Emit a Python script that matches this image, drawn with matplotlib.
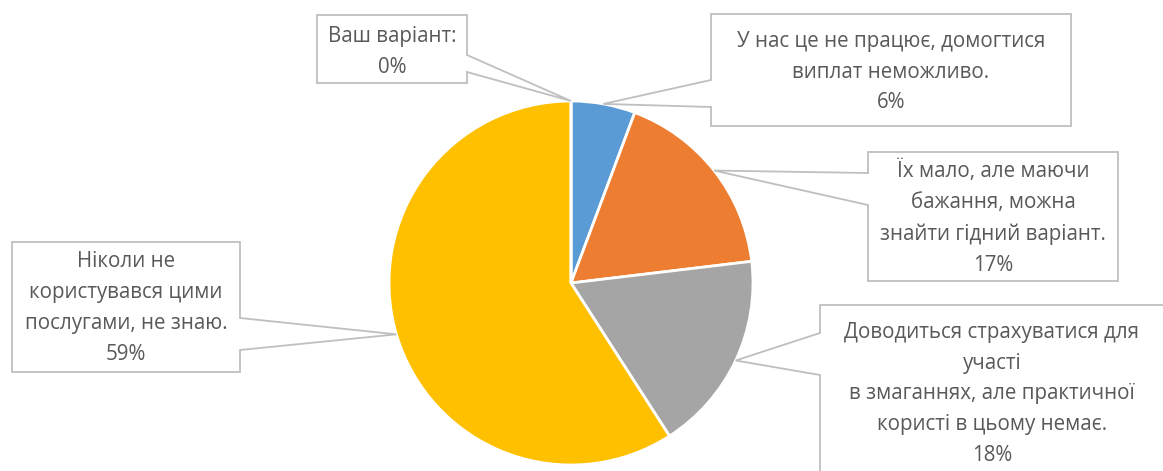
import matplotlib.pyplot as plt
import numpy as np
from matplotlib.patches import Polygon

# data
labels = ["У нас це не працює, домогтися\nвиплат неможливо.",
          "Їх мало, але маючи\nбажання, можна\nзнайти гідний варіант.",
          "Доводиться страхуватися для\nучасті\nв змаганнях, але практичної\nкористі в цьому немає.",
          "Ніколи не\nкористувався цими\nпослугами, не знаю.",
          "Ваш варіант:"]
values = [5.7, 17.4, 17.8, 59.1, 0.0]
colors = ["#5B9BD5", "#ED7D31", "#A5A5A5", "#FFC000", "#4472C4"]

W, H = 1163, 471
cx, cy, R = 571, 283, 182

# callout boxes: x0, y0, x1, y1, side of pointer, pointer base (top, bottom), text centre
boxes = [
    (711, 14, 1071, 126, "left", 80, 107, 891, 72),
    (868, 152, 1118, 281, "left", 173, 205, 993, 218),
    (820, 305, 1175, 490, "left", 333, 375, 992, 394),
    (12, 242, 240, 372, "right", 318, 350, 126, 308),
    (317, 15, 467, 83, "right", 55, 72, 392, 52),
]

fig = plt.figure(figsize=(W / 100, H / 100), dpi=100)
ax = fig.add_axes([0, 0, 1, 1])

wedges, _ = ax.pie(values, colors=colors, startangle=-90, counterclock=True,
                   center=(cx, cy), radius=R, frame=True,
                   wedgeprops=dict(edgecolor="white", linewidth=2))
ax.set_xlim(0, W)
ax.set_ylim(H, 0)
ax.set_aspect("equal")
ax.axis("off")

for w, lab, val, b in zip(wedges, labels, values, boxes):
    mid = np.deg2rad((w.theta1 + w.theta2) / 2)
    tx = cx + R * np.cos(mid)
    ty = cy + R * np.sin(mid)
    x0, y0, x1, y1, side, pa, pb, xt, yt = b
    if side == "left":
        pts = [(x0, y0), (x1, y0), (x1, y1), (x0, y1), (x0, pb), (tx, ty), (x0, pa)]
    else:
        pts = [(x0, y0), (x1, y0), (x1, pa), (tx, ty), (x1, pb), (x1, y1), (x0, y1)]
    ax.add_patch(Polygon(pts, closed=True, facecolor="white", edgecolor="#BFBFBF",
                         linewidth=1.3, zorder=3))
    txt = lab + "\n" + "%d%%" % round(val)
    ax.text(xt, yt, txt, ha="center", va="center", fontsize=14.8, color="#595959",
            family=["Open Sans", "DejaVu Sans"], linespacing=1.62, zorder=4)

fig.savefig("out.png", dpi=100, facecolor="white")
